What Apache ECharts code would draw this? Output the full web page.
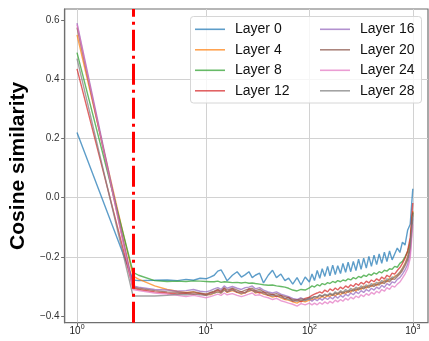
<!DOCTYPE html>
<html>
<head>
<meta charset="utf-8">
<script src="https://cdn.jsdelivr.net/npm/echarts@6/dist/echarts.min.js"></script>
<style>
  html, body { margin: 0; padding: 0; background: #fff; }
  #chart { width: 429px; height: 341px; }
</style>
</head>
<body>
<div id="chart"></div>
<script>
// Token positions (log scale) shared by every layer
const xPos = [1, 2.72, 3, 4, 5, 6, 7, 8, 9, 10,
  11, 12, 13, 14, 15, 16, 18, 20, 22, 24, 26, 28, 30, 33, 36, 40, 44, 48, 53, 58, 63, 69, 76, 83, 91, 100,
  106, 112, 119, 126, 133, 141, 150, 158, 168, 178, 188, 200, 211, 224, 237, 251, 266, 282, 299, 316, 335, 355, 376, 398,
  422, 447, 473, 501, 531, 562, 596, 631, 668, 708, 750, 794, 841, 891, 944, 1000];

// Position of the dash-dot marker
const cutoff = 2.72;

const layerNames = ['Layer 0', 'Layer 4', 'Layer 8', 'Layer 12', 'Layer 16', 'Layer 20', 'Layer 24', 'Layer 28'];

const layer0 = [0.22, -0.278, -0.28, -0.279, -0.278, -0.28, -0.276, -0.279, -0.272, -0.274,
  -0.268, -0.262, -0.248, -0.244, -0.262, -0.281, -0.262, -0.25, -0.268, -0.26, -0.25, -0.27, -0.262, -0.255, -0.288, -0.262, -0.245, -0.27, -0.258, -0.28, -0.272, -0.292, -0.27, -0.295, -0.268, -0.285,
  -0.258, -0.28, -0.246, -0.272, -0.24, -0.266, -0.232, -0.264, -0.228, -0.26, -0.23, -0.256, -0.222, -0.252, -0.218, -0.25, -0.215, -0.246, -0.208, -0.242, -0.204, -0.238, -0.198, -0.232,
  -0.194, -0.226, -0.19, -0.222, -0.184, -0.216, -0.18, -0.21, -0.19, -0.17, -0.185, -0.15, -0.16, -0.11, -0.09, 0.03];

const layer4 = [0.55, -0.265, -0.275, -0.298, -0.31, -0.316, -0.32, -0.318, -0.324, -0.326,
  -0.328, -0.322, -0.318, -0.322, -0.312, -0.32, -0.314, -0.32, -0.326, -0.32, -0.316, -0.312, -0.322, -0.318, -0.326, -0.33, -0.336, -0.332, -0.338, -0.344, -0.346, -0.352, -0.356, -0.348, -0.352, -0.346,
  -0.344, -0.342, -0.338, -0.34, -0.333, -0.338, -0.33, -0.334, -0.326, -0.332, -0.322, -0.328, -0.318, -0.324, -0.314, -0.32, -0.308, -0.316, -0.304, -0.31, -0.298, -0.306, -0.295, -0.3,
  -0.29, -0.297, -0.285, -0.29, -0.28, -0.284, -0.272, -0.276, -0.265, -0.262, -0.252, -0.238, -0.222, -0.2, -0.16, -0.045];

const layer8 = [0.49, -0.252, -0.262, -0.28, -0.283, -0.282, -0.283, -0.281, -0.282, -0.283,
  -0.284, -0.284, -0.282, -0.286, -0.284, -0.285, -0.287, -0.286, -0.288, -0.286, -0.289, -0.288, -0.29, -0.292, -0.294, -0.296, -0.295, -0.298, -0.3, -0.302, -0.306, -0.312, -0.315, -0.31, -0.312, -0.305,
  -0.298, -0.302, -0.294, -0.298, -0.29, -0.294, -0.287, -0.29, -0.283, -0.287, -0.28, -0.284, -0.278, -0.281, -0.274, -0.278, -0.27, -0.274, -0.266, -0.27, -0.262, -0.266, -0.258, -0.262,
  -0.254, -0.258, -0.25, -0.254, -0.245, -0.248, -0.24, -0.242, -0.232, -0.235, -0.222, -0.215, -0.2, -0.182, -0.15, -0.05];

const layer12 = [0.435, -0.305, -0.31, -0.318, -0.322, -0.325, -0.322, -0.326, -0.324, -0.33,
  -0.322, -0.318, -0.312, -0.32, -0.306, -0.318, -0.308, -0.32, -0.318, -0.322, -0.308, -0.314, -0.316, -0.322, -0.318, -0.33, -0.326, -0.334, -0.33, -0.342, -0.336, -0.35, -0.344, -0.352, -0.34, -0.336,
  -0.33, -0.326, -0.322, -0.318, -0.322, -0.312, -0.318, -0.308, -0.314, -0.305, -0.312, -0.302, -0.308, -0.298, -0.304, -0.294, -0.3, -0.29, -0.296, -0.286, -0.292, -0.282, -0.288, -0.278,
  -0.284, -0.274, -0.28, -0.268, -0.275, -0.262, -0.268, -0.255, -0.258, -0.246, -0.236, -0.222, -0.205, -0.18, -0.135, -0.018];

const layer16 = [0.59, -0.298, -0.302, -0.31, -0.312, -0.316, -0.314, -0.31, -0.316, -0.318,
  -0.314, -0.308, -0.304, -0.31, -0.298, -0.306, -0.3, -0.306, -0.31, -0.304, -0.302, -0.298, -0.308, -0.304, -0.312, -0.318, -0.322, -0.318, -0.326, -0.33, -0.334, -0.34, -0.344, -0.338, -0.346, -0.342,
  -0.35, -0.342, -0.348, -0.34, -0.346, -0.338, -0.344, -0.336, -0.342, -0.332, -0.34, -0.33, -0.336, -0.326, -0.332, -0.322, -0.328, -0.318, -0.324, -0.314, -0.32, -0.31, -0.316, -0.306,
  -0.312, -0.302, -0.308, -0.296, -0.303, -0.29, -0.296, -0.284, -0.288, -0.276, -0.27, -0.258, -0.244, -0.225, -0.19, -0.07];

const layer20 = [0.575, -0.302, -0.306, -0.314, -0.318, -0.32, -0.322, -0.318, -0.322, -0.326,
  -0.32, -0.316, -0.31, -0.316, -0.304, -0.312, -0.306, -0.312, -0.318, -0.312, -0.308, -0.306, -0.314, -0.31, -0.318, -0.322, -0.328, -0.324, -0.33, -0.334, -0.338, -0.344, -0.346, -0.342, -0.344, -0.338,
  -0.34, -0.334, -0.336, -0.33, -0.334, -0.328, -0.332, -0.325, -0.33, -0.322, -0.327, -0.318, -0.324, -0.316, -0.32, -0.312, -0.316, -0.308, -0.312, -0.304, -0.308, -0.3, -0.304, -0.296,
  -0.3, -0.292, -0.295, -0.286, -0.29, -0.28, -0.284, -0.274, -0.276, -0.266, -0.258, -0.246, -0.23, -0.21, -0.172, -0.05];

const layer24 = [0.585, -0.31, -0.314, -0.322, -0.326, -0.33, -0.334, -0.33, -0.334, -0.338,
  -0.334, -0.33, -0.326, -0.33, -0.322, -0.328, -0.324, -0.33, -0.334, -0.33, -0.326, -0.322, -0.33, -0.328, -0.334, -0.338, -0.344, -0.34, -0.348, -0.352, -0.356, -0.36, -0.366, -0.358, -0.362, -0.356,
  -0.362, -0.356, -0.362, -0.354, -0.36, -0.352, -0.358, -0.35, -0.356, -0.346, -0.352, -0.344, -0.35, -0.34, -0.346, -0.336, -0.342, -0.332, -0.338, -0.328, -0.334, -0.324, -0.33, -0.32,
  -0.326, -0.316, -0.322, -0.31, -0.316, -0.304, -0.31, -0.298, -0.302, -0.292, -0.285, -0.272, -0.258, -0.24, -0.205, -0.09];

const layer28 = [0.47, -0.332, -0.332, -0.332, -0.33, -0.326, -0.328, -0.325, -0.328, -0.33,
  -0.326, -0.322, -0.318, -0.322, -0.312, -0.318, -0.312, -0.318, -0.324, -0.32, -0.314, -0.312, -0.32, -0.316, -0.324, -0.328, -0.332, -0.33, -0.336, -0.34, -0.344, -0.348, -0.35, -0.346, -0.348, -0.342,
  -0.338, -0.334, -0.336, -0.328, -0.332, -0.326, -0.33, -0.322, -0.328, -0.318, -0.324, -0.314, -0.32, -0.31, -0.316, -0.306, -0.312, -0.302, -0.308, -0.298, -0.304, -0.294, -0.3, -0.29,
  -0.295, -0.286, -0.29, -0.28, -0.285, -0.274, -0.278, -0.268, -0.27, -0.26, -0.252, -0.24, -0.224, -0.202, -0.165, -0.06];

const yTicks = [-0.4, -0.2, 0, 0.2, 0.4, 0.6];

const layerValues = [layer0, layer4, layer8, layer12, layer16, layer20, layer24, layer28];
const colors = ['#1f77b4', '#ff7f0e', '#2ca02c', '#d62728', '#9467bd', '#8c564b', '#e377c2', '#7f7f7f'];

const FONT = '"Liberation Sans", Arial, Helvetica, sans-serif';
const Y_MIN = -0.4223, Y_MAX = 0.6375;
const TOP = 9, BOTTOM = 18.3;

// The x range is drawn in two log panels that meet at 10
const panels = [
  { grid: { left: 60, width: 146, top: TOP, bottom: BOTTOM }, min: 0.738, max: 10, lo: 0, hi: 10 },
  { grid: { left: 206, right: 1, top: TOP, bottom: BOTTOM }, min: 10, max: 1403, lo: 10, hi: Infinity }
];

function powLabel(v) {
  const lg = Math.log10(v);
  const k = Math.round(lg);
  if (Math.abs(lg - k) > 1e-6) return '';
  return '{b|10}{s|' + k + '}';
}

const labelRich = {
  b: { fontSize: 10, fontFamily: FONT, color: '#222', verticalAlign: 'bottom', lineHeight: 13 },
  s: { fontSize: 7, fontFamily: FONT, color: '#222', verticalAlign: 'top', lineHeight: 13 }
};

const grids = [{ left: 60, right: 1, top: TOP, bottom: BOTTOM, show: true, borderColor: '#6f6f6f', borderWidth: 1.2 }];
const xAxes = [{ gridIndex: 0, type: 'value', min: 0, max: 1, show: false }];
const yAxes = [{
  gridIndex: 0, type: 'value', min: Y_MIN, max: Y_MAX,
  name: 'Cosine similarity', nameLocation: 'middle', nameGap: 24,
  nameTextStyle: { fontSize: 21, fontWeight: 'bold', fontFamily: FONT, color: '#000' },
  axisLine: { show: true, onZero: false, lineStyle: { color: '#6f6f6f', width: 1.2 } },
  axisTick: { show: true, length: 3.5, customValues: yTicks, lineStyle: { color: '#6f6f6f' } },
  axisLabel: {
    customValues: yTicks, margin: 5, fontSize: 10, fontFamily: FONT, color: '#333',
    formatter: v => v.toFixed(1).replace('-', '\u2212')
  },
  splitLine: { show: true, showMinLine: false, showMaxLine: false, lineStyle: { color: '#d2d2d2', width: 1 } }
}];

panels.forEach((p, k) => {
  grids.push(p.grid);
  xAxes.push({
    gridIndex: k + 1, type: 'log', logBase: 10, min: p.min, max: p.max, position: 'bottom',
    axisLine: { show: false, onZero: false },
    axisTick: { show: true, length: 3.5, lineStyle: { color: '#6f6f6f' } },
    axisLabel: {
      margin: 1, formatter: powLabel, rich: labelRich,
      showMinLabel: k === 1, showMaxLabel: false
    },
    splitLine: { show: true, showMinLine: false, showMaxLine: k === 0, lineStyle: { color: '#d2d2d2', width: 1 } }
  });
  yAxes.push({ gridIndex: k + 1, type: 'value', min: Y_MIN, max: Y_MAX, show: false });
});

const series = [];
panels.forEach((p, k) => {
  layerNames.forEach((name, i) => {
    const data = xPos.map((x, j) => [x, layerValues[i][j]]).filter(d => d[0] >= p.lo && d[0] <= p.hi);
    series.push({
      type: 'line', name, data, xAxisIndex: k + 1, yAxisIndex: k + 1,
      symbol: 'none', smooth: false, clip: true,
      lineStyle: { color: colors[i], width: 1.4, opacity: 0.72 },
      itemStyle: { color: colors[i], opacity: 0.72 },
      emphasis: { disabled: true }
    });
  });
});

// Vertical dash-dot marker
series.push({
  type: 'line', name: 'marker', data: [], xAxisIndex: 1, yAxisIndex: 1, silent: true,
  markLine: {
    silent: true, symbol: 'none', label: { show: false },
    lineStyle: { color: '#ff0000', width: 3, type: [21, 5, 3, 5], opacity: 1 },
    data: [{ xAxis: cutoff }]
  }
});

const legendBase = {
  orient: 'vertical', top: 22.3, icon: 'rect', itemWidth: 30, itemHeight: 1.6, itemGap: 6.5, padding: 0,
  selectedMode: false, z: 10,
  textStyle: { fontSize: 14, fontFamily: FONT, color: '#111', padding: [0, 0, 0, 5] }
};

const chart = echarts.init(document.getElementById('chart'), null, { renderer: 'canvas' });
chart.setOption({
  animation: false,
  backgroundColor: '#fff',
  grid: grids,
  xAxis: xAxes,
  yAxis: yAxes,
  legend: [
    Object.assign({}, legendBase, { left: 195, data: layerNames.slice(0, 4) }),
    Object.assign({}, legendBase, { left: 320, data: layerNames.slice(4) })
  ],
  graphic: [{
    type: 'rect', z: 5,
    shape: { x: 190.5, y: 16.5, width: 231, height: 86.5, r: 3 },
    style: { fill: 'rgba(255,255,255,0.8)', stroke: '#d6d6d6', lineWidth: 1 }
  }],
  series
});
</script>
</body>
</html>
